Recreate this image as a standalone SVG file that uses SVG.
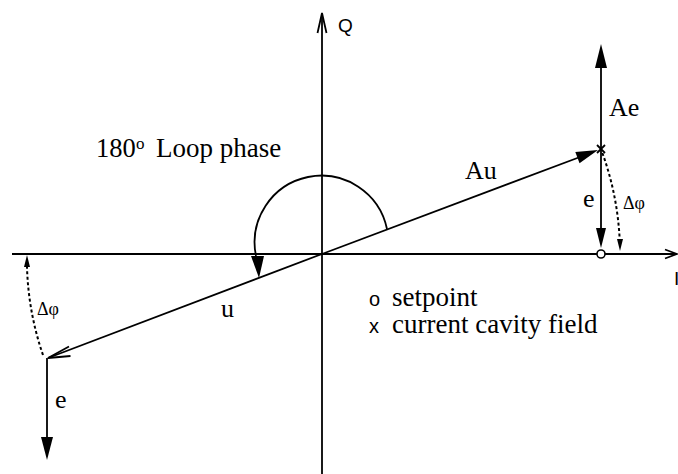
<svg xmlns="http://www.w3.org/2000/svg" width="678" height="474" viewBox="0 0 678 474">
<style>
.ln{stroke:#000;stroke-width:1.8;fill:none}
.dot{stroke:#000;stroke-width:2;fill:none;stroke-dasharray:3,2.5}
.ah{fill:#000;stroke:none}
.sr{font-family:"Liberation Serif","Times New Roman",serif;fill:#000}
.ss{font-family:"Liberation Sans",Arial,sans-serif;fill:#000}
</style>
<rect width="678" height="474" fill="#fff"/>
<g id="connectors">
<g id="axis-q">
<line class="ln" x1="322" y1="14" x2="322" y2="474"/>
<polyline class="ln" points="317.5,33 322,13 326.5,33"/>
</g>
<g id="axis-i">
<line class="ln" x1="12" y1="254" x2="676" y2="254"/>
<polyline class="ln" points="665,249.5 677,254 665,258.5"/>
</g>
<g id="vec-au">
<line class="ln" x1="322" y1="254" x2="580" y2="157"/>
<polygon class="ah" points="598,150 579.5,163.3 575.3,152.1"/>
</g>
<g id="vec-ae">
<line class="ln" x1="601" y1="149" x2="601" y2="66"/>
<polygon class="ah" points="601,44 595,68 607,68"/>
</g>
<g id="vec-e-right">
<line class="ln" x1="601" y1="149" x2="601" y2="230"/>
<polygon class="ah" points="601,248 596,228 606,228"/>
</g>
<g id="vec-u">
<line class="ln" x1="322" y1="254" x2="48" y2="358"/>
<polyline class="ln" points="69,346.5 48,358 70.5,356"/>
</g>
<g id="vec-e-left">
<line class="ln" x1="47" y1="358" x2="47" y2="440"/>
<polygon class="ah" points="47,460 41,437 53,437"/>
</g>
<g id="arc-loop">
<path class="ln" d="M387,229 A66,66 0 0,0 256,256"/>
<polygon class="ah" points="259,278 251,256 264,256"/>
</g>
<g id="arc-dphi-right">
<path class="dot" d="M602.4,153 A298,298 0 0,1 619.7,240"/>
<polygon class="ah" points="620,251 617,239 623,239"/>
</g>
<g id="arc-dphi-left">
<path class="dot" d="M43,355 A296,296 0 0,1 27,267"/>
<polygon class="ah" points="27,255 24,267 30,267"/>
</g>
</g>
<g id="current-field">
<line class="ln" x1="597" y1="145" x2="605" y2="153" stroke-width="1.5"/>
<line class="ln" x1="605" y1="145" x2="597" y2="153" stroke-width="1.5"/>
</g>
<g id="setpoint">
<circle cx="601" cy="254" r="4" fill="#fff" stroke="#000" stroke-width="1.6"/>
</g>
<g id="labels">
<text class="ss" x="338" y="32" font-size="19">Q</text>
<text class="ss" x="674" y="285" font-size="19">I</text>
<text class="sr" x="609" y="116" font-size="26">Ae</text>
<text class="sr" x="583" y="207" font-size="26">e</text>
<text class="sr" x="623" y="209" font-size="18">Δφ</text>
<text class="sr" x="465" y="179" font-size="26">Au</text>
<text class="sr" x="221" y="317" font-size="26">u</text>
<text class="sr" x="55" y="408" font-size="26">e</text>
<text class="sr" x="37" y="315" font-size="18">Δφ</text>
<text class="sr" x="96" y="157" font-size="26.5">180</text>
<text class="sr" x="136" y="149" font-size="17">o</text>
<text class="sr" x="156" y="157" font-size="27">Loop phase</text>
</g>
<g id="legend">
<text class="ss" x="369" y="306" font-size="20">o</text>
<text class="sr" x="392" y="306" font-size="27">setpoint</text>
<text class="ss" x="369" y="333" font-size="20">x</text>
<text class="sr" x="392" y="333" font-size="27">current cavity field</text>
</g>
</svg>
